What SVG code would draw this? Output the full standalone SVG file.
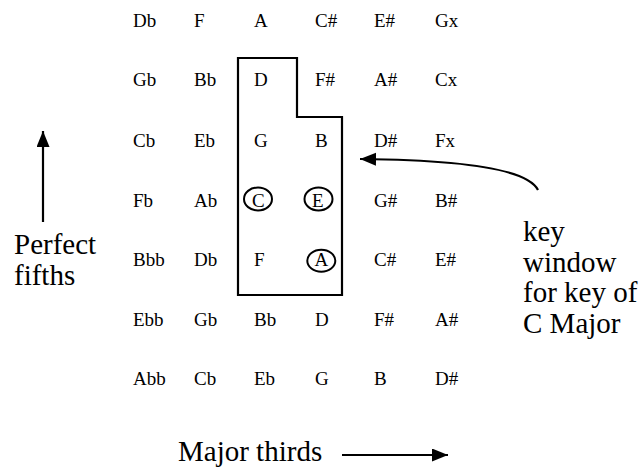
<svg xmlns="http://www.w3.org/2000/svg" width="641" height="468" viewBox="0 0 641 468">
<style>
.n{font-family:"Liberation Serif","Times New Roman",serif;font-size:19px;fill:#000}
.big{font-family:"Liberation Serif","Times New Roman",serif;font-size:29px;fill:#000}
.ln{fill:none;stroke:#000;stroke-width:2.2}
.ring{fill:none;stroke:#000;stroke-width:2}
</style>
<defs>
<marker id="ah" markerUnits="userSpaceOnUse" markerWidth="17" markerHeight="14" refX="16" refY="6.5" orient="auto">
<polygon points="0,0 16,6.5 0,13" fill="#000"/>
</marker>
</defs>
<rect width="641" height="468" fill="#fff"/>
<g id="grid">
<g id="row1">
<text class="n" x="133" y="27">Db</text><text class="n" x="194" y="27">F</text><text class="n" x="254" y="27">A</text><text class="n" x="315" y="27">C#</text><text class="n" x="374" y="27">E#</text><text class="n" x="435" y="27">Gx</text>
</g>
<g id="row2">
<text class="n" x="133" y="86">Gb</text><text class="n" x="194" y="86">Bb</text><text class="n" x="254" y="86">D</text><text class="n" x="315" y="86">F#</text><text class="n" x="374" y="86">A#</text><text class="n" x="435" y="86">Cx</text>
</g>
<g id="row3">
<text class="n" x="133" y="147">Cb</text><text class="n" x="194" y="147">Eb</text><text class="n" x="254" y="147">G</text><text class="n" x="315" y="147">B</text><text class="n" x="374" y="147">D#</text><text class="n" x="435" y="147">Fx</text>
</g>
<g id="row4">
<text class="n" x="133" y="207">Fb</text><text class="n" x="194" y="207">Ab</text><text class="n" x="252" y="207">C</text><text class="n" x="312" y="207">E</text><text class="n" x="374" y="207">G#</text><text class="n" x="435" y="207">B#</text>
</g>
<g id="row5">
<text class="n" x="133" y="266">Bbb</text><text class="n" x="194" y="266">Db</text><text class="n" x="254" y="266">F</text><text class="n" x="314.5" y="266">A</text><text class="n" x="374" y="266">C#</text><text class="n" x="435" y="266">E#</text>
</g>
<g id="row6">
<text class="n" x="133" y="326">Ebb</text><text class="n" x="194" y="326">Gb</text><text class="n" x="254" y="326">Bb</text><text class="n" x="315" y="326">D</text><text class="n" x="374" y="326">F#</text><text class="n" x="435" y="326">A#</text>
</g>
<g id="row7">
<text class="n" x="133" y="385">Abb</text><text class="n" x="194" y="385">Cb</text><text class="n" x="254" y="385">Eb</text><text class="n" x="315" y="385">G</text><text class="n" x="374" y="385">B</text><text class="n" x="435" y="385">D#</text>
</g>
</g>
<g id="key-window">
<path class="ln" d="M238,58 H297 V117 H342 V295 H238 Z" stroke-width="2.5"/>
<ellipse class="ring" cx="258" cy="199" rx="14" ry="11.5"/>
<ellipse class="ring" cx="318.5" cy="199" rx="14" ry="11.5"/>
<ellipse class="ring" cx="321.3" cy="260.8" rx="14" ry="11"/>
</g>
<g id="labels">
<text class="big" x="14" y="254">Perfect</text>
<text class="big" x="14" y="285">fifths</text>
<text class="big" x="523" y="241">key</text>
<text class="big" x="523" y="272">window</text>
<text class="big" x="523" y="302">for key of</text>
<text class="big" x="523" y="333">C Major</text>
<text class="big" x="178" y="461">Major thirds</text>
</g>
<g id="connectors">
<line class="ln" x1="43" y1="222" x2="43" y2="131" marker-end="url(#ah)"/>
<line class="ln" x1="342" y1="455" x2="448" y2="455" marker-end="url(#ah)"/>
<path class="ln" d="M538,190 C528,170 470,160 360,159" marker-end="url(#ah)"/>
</g>
</svg>
